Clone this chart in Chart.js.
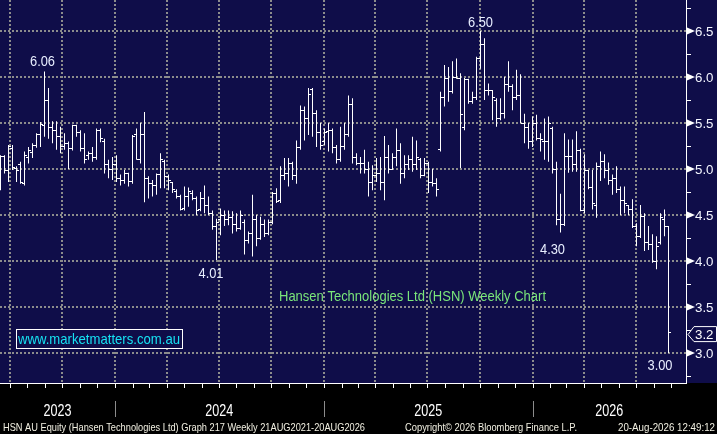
<!DOCTYPE html>
<html><head><meta charset="utf-8">
<script src="https://cdn.jsdelivr.net/npm/chart.js@4.4.0/dist/chart.umd.min.js"></script>
<style>html,body{margin:0;padding:0;background:#000;}canvas{display:block;}</style>
</head><body>
<canvas id="c" width="717" height="434"></canvas>
<script>
// ---- data (weekly OHLC, first bar week of 15 Jun 2023) ----
const firstWeek = '2023-06-15';
const opens  = [4.79,5.14,4.98,5.22,5.01,5.05,4.84,5.12,5.18,5.26,5.37,5.47,5.75,5.45,5.42,5.35,5.25,5.28,5.22,5.47,5.40,5.22,5.15,5.17,5.12,5.42,5.30,5.05,5.00,5.05,4.90,4.88,4.95,4.86,5.37,5.10,5.37,4.90,4.84,4.82,4.94,5.08,4.92,4.85,4.76,4.70,4.57,4.70,4.73,4.68,4.56,4.68,4.60,4.52,4.38,4.45,4.50,4.45,4.47,4.40,4.35,4.42,4.22,4.30,4.45,4.25,4.40,4.30,4.42,4.73,4.66,4.93,4.95,5.06,4.93,5.23,5.64,5.55,5.86,5.60,5.40,5.30,5.41,5.42,5.23,5.10,5.24,5.38,5.70,5.12,5.06,5.06,5.00,4.85,4.93,4.95,4.85,5.12,5.00,5.12,5.20,4.95,5.05,5.10,5.05,5.10,4.93,5.06,4.85,4.84,5.21,5.78,5.98,5.84,6.00,5.98,5.45,5.97,5.73,5.78,6.20,6.35,5.85,5.85,5.75,5.55,5.60,5.92,5.90,5.78,5.80,5.50,5.45,5.30,5.50,5.33,5.30,5.30,5.44,5.00,4.45,4.40,5.14,5.14,5.05,5.20,4.55,4.98,4.80,4.60,5.03,5.08,4.98,4.88,4.90,4.78,4.66,4.60,4.56,4.38,4.27,4.48,4.20,4.18,4.00,4.20,4.45,4.38];
const highs  = [5.15,5.15,5.26,5.26,5.03,5.08,5.19,5.24,5.28,5.39,5.51,6.06,5.88,5.52,5.52,5.46,5.39,5.30,5.48,5.48,5.42,5.39,5.19,5.24,5.44,5.44,5.33,5.10,5.13,5.15,4.94,4.99,4.96,5.37,5.44,5.50,5.62,4.92,4.88,4.95,5.17,5.10,4.94,4.86,4.78,4.72,4.81,4.80,4.77,4.70,4.75,4.82,4.70,4.55,4.46,4.57,4.55,4.55,4.54,4.52,4.55,4.45,4.32,4.72,4.50,4.48,4.45,4.45,4.75,4.79,5.03,5.12,5.12,5.08,5.31,5.69,5.68,5.88,5.88,5.64,5.50,5.44,5.50,5.44,5.26,5.46,5.50,5.80,5.77,5.17,5.13,5.21,5.08,5.04,5.12,5.13,5.36,5.26,5.17,5.44,5.28,5.15,5.15,5.35,5.31,5.12,5.12,5.08,5.00,4.90,5.84,6.13,6.11,6.17,6.20,6.04,5.99,5.98,5.84,6.22,6.50,6.42,5.93,5.86,5.77,5.77,6.00,6.17,5.92,6.08,6.03,5.60,5.50,5.57,5.59,5.39,5.55,5.57,5.46,5.08,4.73,5.39,5.32,5.32,5.41,5.22,5.16,4.99,4.99,5.07,5.19,5.16,5.07,4.94,5.03,4.81,4.81,4.61,4.67,4.41,4.61,4.52,4.38,4.29,4.27,4.52,4.56,4.38];
const lows   = [4.77,4.95,4.86,4.99,4.86,4.84,4.82,5.06,5.12,5.23,5.24,5.35,5.33,5.28,5.21,5.17,5.21,5.00,5.20,5.35,5.19,5.06,5.10,5.08,5.10,5.29,4.95,4.90,4.88,4.86,4.82,4.84,4.81,4.84,5.10,5.06,4.64,4.68,4.70,4.72,4.79,4.79,4.77,4.74,4.68,4.55,4.55,4.59,4.66,4.50,4.54,4.52,4.50,4.34,4.01,4.28,4.38,4.39,4.30,4.32,4.34,4.07,4.19,4.05,4.16,4.23,4.26,4.28,4.40,4.63,4.63,4.88,4.81,4.88,4.84,5.21,5.31,5.37,5.35,5.24,5.21,5.26,5.19,5.17,5.06,5.08,5.21,5.35,5.06,5.04,4.95,4.95,4.70,4.77,4.86,4.77,4.66,4.95,4.99,5.03,4.84,4.90,4.99,4.97,4.99,4.90,4.92,4.74,4.81,4.70,5.19,5.68,5.73,5.82,5.98,5.01,5.42,5.71,5.71,5.75,6.09,5.75,5.80,5.53,5.46,5.53,5.55,5.84,5.64,5.75,5.50,5.28,5.22,5.24,5.31,5.19,5.10,5.08,4.95,4.39,4.31,4.38,4.96,4.97,4.97,4.54,4.52,4.78,4.56,4.47,4.87,4.90,4.83,4.72,4.74,4.50,4.52,4.50,4.36,4.16,4.25,4.11,4.12,3.98,3.91,4.18,4.27,3.00];
const closes = [5.14,4.98,5.24,5.02,4.98,4.85,5.15,5.20,5.26,5.37,5.48,5.75,5.45,5.42,5.35,5.25,5.28,5.22,5.47,5.40,5.22,5.10,5.17,5.12,5.42,5.33,5.05,5.00,5.05,4.90,4.88,4.95,4.86,5.35,5.10,5.37,4.90,4.84,4.82,4.94,5.10,4.92,4.87,4.78,4.70,4.56,4.70,4.76,4.68,4.55,4.68,4.60,4.52,4.38,4.42,4.50,4.45,4.47,4.40,4.35,4.50,4.22,4.30,4.45,4.25,4.40,4.30,4.42,4.73,4.65,4.93,4.95,5.06,4.93,5.23,5.64,5.55,5.81,5.60,5.40,5.26,5.40,5.42,5.23,5.10,5.24,5.38,5.70,5.12,5.06,5.06,5.00,4.85,4.93,4.95,4.85,5.12,5.00,5.12,5.20,4.95,5.05,5.10,5.05,5.12,4.93,5.06,4.85,4.84,4.78,5.78,5.98,5.84,6.00,5.98,5.59,5.97,5.73,5.78,6.20,6.35,5.85,5.85,5.78,5.55,5.60,5.92,5.90,5.78,5.80,5.50,5.45,5.30,5.50,5.33,5.32,5.30,5.50,5.00,4.45,4.40,5.14,5.14,5.05,5.20,4.55,4.98,4.80,4.62,5.03,5.08,4.98,4.88,4.90,4.78,4.66,4.62,4.56,4.38,4.27,4.48,4.20,4.18,4.00,4.16,4.47,4.38,3.22];
const yTicks = [3.0, 3.5, 4.0, 4.5, 5.0, 5.5, 6.0, 6.5];
const yMinorTicks = [2.75, 3.25, 3.75, 4.25, 4.75, 5.25, 5.75, 6.25, 6.75];
const yearLabels = ['2023', '2024', '2025', '2026'];
const yearStarts = ['2024-01-01', '2025-01-01', '2026-01-01'];
const annotationIdx = [11, 54, 120, 140, 167];
const annotationVal = [6.06, 4.01, 6.50, 4.31, 3.00];
const annotationText = ['6.06', '4.01', '6.50', '4.30', '3.00'];
const lastPrice = 3.2;
const titleText = 'Hansen Technologies Ltd (HSN) Weekly Chart';
const siteText = 'www.marketmatters.com.au';
const footerLeft = 'HSN AU Equity (Hansen Technologies Ltd) Graph 217 Weekly 21AUG2021-20AUG2026';
const footerMid = 'Copyright\u00A9 2026 Bloomberg Finance L.P.';
const footerRight = '20-Aug-2026 12:49:12';

// ---- helpers ----
const DAY = 86400000;
const t0 = Date.parse(firstWeek + 'T00:00:00Z');
function weekOf(s) { return (Date.parse(s + 'T00:00:00Z') - t0) / (7 * DAY); }
function monthList(y0, m0, y1, m1, step) {
  const out = [];
  let y = y0, m = m0;
  while (y < y1 || (y === y1 && m <= m1)) {
    out.push(y + '-' + String(m).padStart(2, '0') + '-01');
    m += step; while (m > 12) { m -= 12; y++; }
  }
  return out;
}
const quarterDates = monthList(2023, 7, 2026, 7, 3);
const monthDates = monthList(2023, 7, 2026, 9, 1);
const FONT = '"Liberation Sans", Arial, sans-serif';
function txt(ctx, s, x, y, size, color, align, w) {
  ctx.save();
  ctx.font = size + 'px ' + FONT;
  ctx.fillStyle = color;
  ctx.textBaseline = 'alphabetic';
  ctx.textAlign = 'left';
  const nat = ctx.measureText(s).width;
  const sx = w ? w / nat : 1;
  const wd = nat * sx;
  const left = align === 'center' ? x - wd / 2 : (align === 'right' ? x - wd : x);
  ctx.translate(left, y);
  ctx.scale(sx, 1);
  ctx.fillText(s, 0, 0);
  ctx.restore();
}

const NAVY = '#0f0d49';
const bgPlugin = {
  id: 'bg',
  beforeDraw(chart) {
    const c = chart.ctx;
    c.save();
    c.fillStyle = NAVY; c.fillRect(0, 0, chart.width, chart.chartArea.bottom);
    c.fillStyle = '#000'; c.fillRect(0, chart.chartArea.bottom, chart.width, chart.height - chart.chartArea.bottom);
    c.restore();
  }
};

const overlayPlugin = {
  id: 'overlay',
  afterDatasetsDraw(chart) {
    const c = chart.ctx, xs = chart.scales.x, ys = chart.scales.y;
    c.save();
    c.fillStyle = '#ffffff';
    for (let i = 0; i < opens.length; i++) {
      const x = Math.round(xs.getPixelForValue(i) - 0.5);
      const yo = Math.round(ys.getPixelForValue(opens[i]) - 0.5);
      const yc = Math.round(ys.getPixelForValue(closes[i]) - 0.5);
      c.fillRect(x - 2, yo, 2, 1);
      c.fillRect(x + 1, yc, 2, 1);
    }
    c.restore();
  },
  afterDraw(chart) {
    const c = chart.ctx, xs = chart.scales.x, ys = chart.scales.y, a = chart.chartArea;
    c.save();
    // watermark box
    c.fillStyle = NAVY; c.fillRect(16, 329, 166, 19);
    c.strokeStyle = '#ffffff'; c.lineWidth = 1; c.strokeRect(16.5, 329.5, 166, 19);
    txt(c, siteText, 18, 344, 15, '#16e2f2', 'left', 162);
    // title
    txt(c, titleText, 279, 300.5, 15, '#7ae67a', 'left', 267);
    // annotations
    const offs = [[-2, -5.5], [-5.5, 18], [0, -4], [-8, 21.5], [-8.5, 17]];
    for (let k = 0; k < annotationIdx.length; k++) {
      const x = xs.getPixelForValue(annotationIdx[k]) + offs[k][0];
      const y = ys.getPixelForValue(annotationVal[k]) + offs[k][1];
      txt(c, annotationText[k], x, y, 14, '#e8eeff', 'center', 25);
    }
    // right axis
    c.fillStyle = '#ffffff';
    c.fillRect(a.right, 0, 1, a.bottom);
    for (const v of yMinorTicks) {
      const y = Math.round(ys.getPixelForValue(v) - 0.5);
      c.fillRect(a.right + 1, y, 4, 1);
    }
    for (const v of yTicks) {
      const y = ys.getPixelForValue(v);
      c.beginPath();
      c.moveTo(a.right + 1, y - 3.5); c.lineTo(a.right + 9, y); c.lineTo(a.right + 1, y + 3.5);
      c.closePath(); c.fill();
      txt(c, v.toFixed(1), a.right + 9, y + 5, 13, '#f4f6ff', 'left', 18.5);
    }
    // last price box
    const yp = ys.getPixelForValue(lastPrice);
    c.beginPath();
    c.moveTo(a.right + 2, yp); c.lineTo(a.right + 8, yp - 8); c.lineTo(716.5, yp - 8);
    c.lineTo(716.5, yp + 7); c.lineTo(a.right + 8, yp + 7); c.closePath();
    c.fillStyle = NAVY; c.fill();
    c.strokeStyle = '#ffffff'; c.lineWidth = 1; c.stroke();
    txt(c, lastPrice.toFixed(1), a.right + 9, yp + 4.5, 13, '#ffffff', 'left', 18.5);
    // bottom axis
    c.fillStyle = '#ffffff';
    c.fillRect(0, a.bottom, a.right + 1, 1);
    for (const d of monthDates) {
      const x = Math.round(xs.getPixelForValue(weekOf(d)));
      if (x >= 0 && x <= a.right) c.fillRect(x, a.bottom + 1, 1, 4);
    }
    const edges = [a.left].concat(yearStarts.map(d => xs.getPixelForValue(weekOf(d)))).concat([a.right]);
    c.fillStyle = '#8c8c8c';
    for (let k = 1; k < edges.length - 1; k++) c.fillRect(Math.round(edges[k]), 401, 1, 16);
    for (let k = 0; k < yearLabels.length; k++) {
      txt(c, yearLabels[k], (edges[k] + edges[k + 1]) / 2, 416, 17, '#ffffff', 'center', 28);
    }
    // footer
    txt(c, footerLeft, 3, 431, 11, '#f2f0e2', 'left', 362);
    txt(c, footerMid, 405, 431, 11, '#f2f0e2', 'left', 172);
    txt(c, footerRight, 618, 431, 11, '#f2f0e2', 'left', 97);
    c.restore();
  }
};

const gridOpts = { color: '#8c8c8c', lineWidth: 2, drawTicks: false, offset: false };
new Chart(document.getElementById('c').getContext('2d'), {
  type: 'bar',
  data: {
    datasets: [{
      data: highs.map((h, i) => ({ x: i, y: [lows[i], h] })),
      backgroundColor: '#ffffff', borderWidth: 0, barThickness: 1, inflateAmount: 0, grouped: false
    }]
  },
  options: {
    responsive: false, animation: false, devicePixelRatio: 1,
    layout: { padding: 0 },
    plugins: { legend: { display: false }, tooltip: { enabled: false } },
    scales: {
      x: {
        type: 'linear', min: -0.125, max: 171.375, offset: false,
        grid: gridOpts, border: { display: false, dash: [2, 2] },
        ticks: { display: false },
        afterBuildTicks: s => { s.ticks = quarterDates.map(d => ({ value: weekOf(d) })); },
        afterFit: s => { s.height = 51; }
      },
      y: {
        type: 'linear', position: 'right', min: 2.674, max: 6.837, beginAtZero: false,
        grid: gridOpts, border: { display: false, dash: [2, 2] },
        ticks: { display: false },
        afterBuildTicks: s => { s.ticks = yTicks.map(v => ({ value: v })); },
        afterFit: s => { s.width = 31; }
      }
    }
  },
  plugins: [bgPlugin, overlayPlugin]
});
</script>
</body></html>
